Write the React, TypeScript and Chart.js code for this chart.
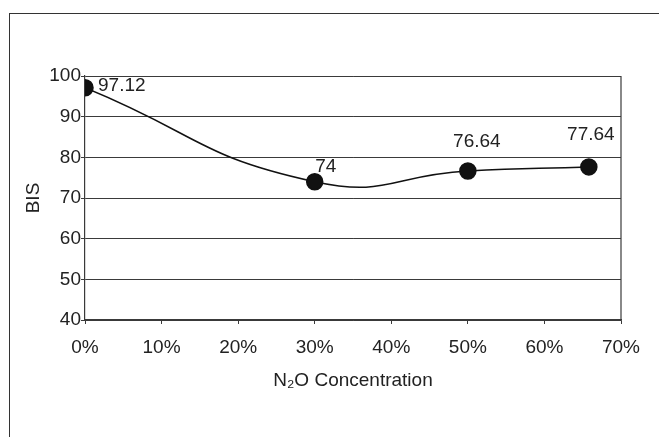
import React, { useEffect, useRef } from "react";
import { Chart, registerables } from "chart.js";

Chart.register(...registerables);

const concentration = [0, 0.3, 0.5, 0.658];
const bisValues = [97.12, 74, 76.64, 77.64];
const pointLabels = ["97.12", "74", "76.64", "77.64"];
const yTitle = "BIS";
const xTitle = "N\u2082O Concentration";

const FONT = "'Liberation Sans', Arial, sans-serif";
const INK = "#222";

const labelPlugin = {
  id: "pointLabels",
  afterDatasetsDraw(chart: any) {
    const ctx = chart.ctx;
    const meta = chart.getDatasetMeta(0);
    const offs = [
      { dx: 13, dy: -2, align: "left" },
      { dx: 11, dy: -15, align: "center" },
      { dx: 9, dy: -29, align: "center" },
      { dx: 2, dy: -32, align: "center" },
    ];
    ctx.save();
    ctx.font = `19px ${FONT}`;
    ctx.fillStyle = INK;
    ctx.textBaseline = "middle";
    meta.data.forEach((pt: any, i: number) => {
      const o = offs[i];
      ctx.textAlign = o.align;
      ctx.fillText(pointLabels[i], pt.x + o.dx, pt.y + o.dy);
    });
    ctx.restore();
  },
};

const borderPlugin = {
  id: "rightBorder",
  beforeDatasetsDraw(chart: any) {
    const { ctx, chartArea } = chart;
    ctx.save();
    ctx.strokeStyle = "#3a3a3a";
    ctx.lineWidth = 1.2;
    ctx.beginPath();
    ctx.moveTo(chartArea.right, chartArea.top);
    ctx.lineTo(chartArea.right, chartArea.bottom);
    ctx.stroke();
    ctx.restore();
  },
};

export default function App() {
  const ref = useRef<HTMLCanvasElement>(null);
  useEffect(() => {
    if (!ref.current) return;
    const chart = new Chart(ref.current, {
      type: "line",
      data: {
        datasets: [
          {
            data: concentration.map((x, i) => ({ x, y: bisValues[i] })),
            borderColor: "#111",
            borderWidth: 1.5,
            backgroundColor: "#111",
            pointBackgroundColor: "#111",
            pointBorderColor: "#111",
            pointRadius: 8,
            tension: 0.5,
            fill: false,
          },
        ],
      },
      options: {
        animation: false,
        responsive: false,
        maintainAspectRatio: false,
        layout: { padding: { left: 0, top: 76, right: 38, bottom: 0 } },
        plugins: {
          legend: { display: false },
          tooltip: { enabled: false },
        },
        scales: {
          x: {
            type: "linear",
            min: 0,
            max: 0.7,
            afterFit: (s: any) => {
              s.height = 117;
            },
            ticks: {
              stepSize: 0.1,
              padding: 12,
              color: INK,
              font: { family: FONT, size: 19 },
              callback: (v: any) => Math.round(Number(v) * 100) + "%",
            },
            grid: {
              drawOnChartArea: false,
              drawTicks: true,
              tickLength: 4,
              color: "#3a3a3a",
            },
            border: { color: "#3a3a3a", width: 1.2 },
            title: {
              display: true,
              text: xTitle,
              color: INK,
              font: { family: FONT, size: 19 },
              padding: { top: 0, bottom: 45 },
            },
          },
          y: {
            min: 40,
            max: 100,
            afterFit: (s: any) => {
              s.width = 85;
            },
            ticks: {
              stepSize: 10,
              padding: 0,
              color: INK,
              font: { family: FONT, size: 19 },
            },
            grid: {
              color: "#3a3a3a",
              lineWidth: 1,
              tickLength: 4,
            },
            border: { color: "#3a3a3a", width: 1.2 },
            title: {
              display: true,
              text: yTitle,
              color: INK,
              font: { family: FONT, size: 19 },
              padding: { top: 22, bottom: 0 },
            },
          },
        },
      },
      plugins: [labelPlugin, borderPlugin],
    });
    return () => chart.destroy();
  }, []);

  return (
    <div
      style={{
        position: "fixed",
        left: 0,
        top: 0,
        width: 659,
        height: 437,
        overflow: "hidden",
        background: "#fff",
      }}
    >
      <div
        style={{
          position: "absolute",
          left: 9,
          top: 13,
          width: 720,
          height: 520,
          border: "1.5px solid #333",
        }}
      />
      <canvas
        ref={ref}
        width={659}
        height={437}
        style={{ position: "absolute", left: 0, top: 0, width: 659, height: 437 }}
      />
    </div>
  );
}
